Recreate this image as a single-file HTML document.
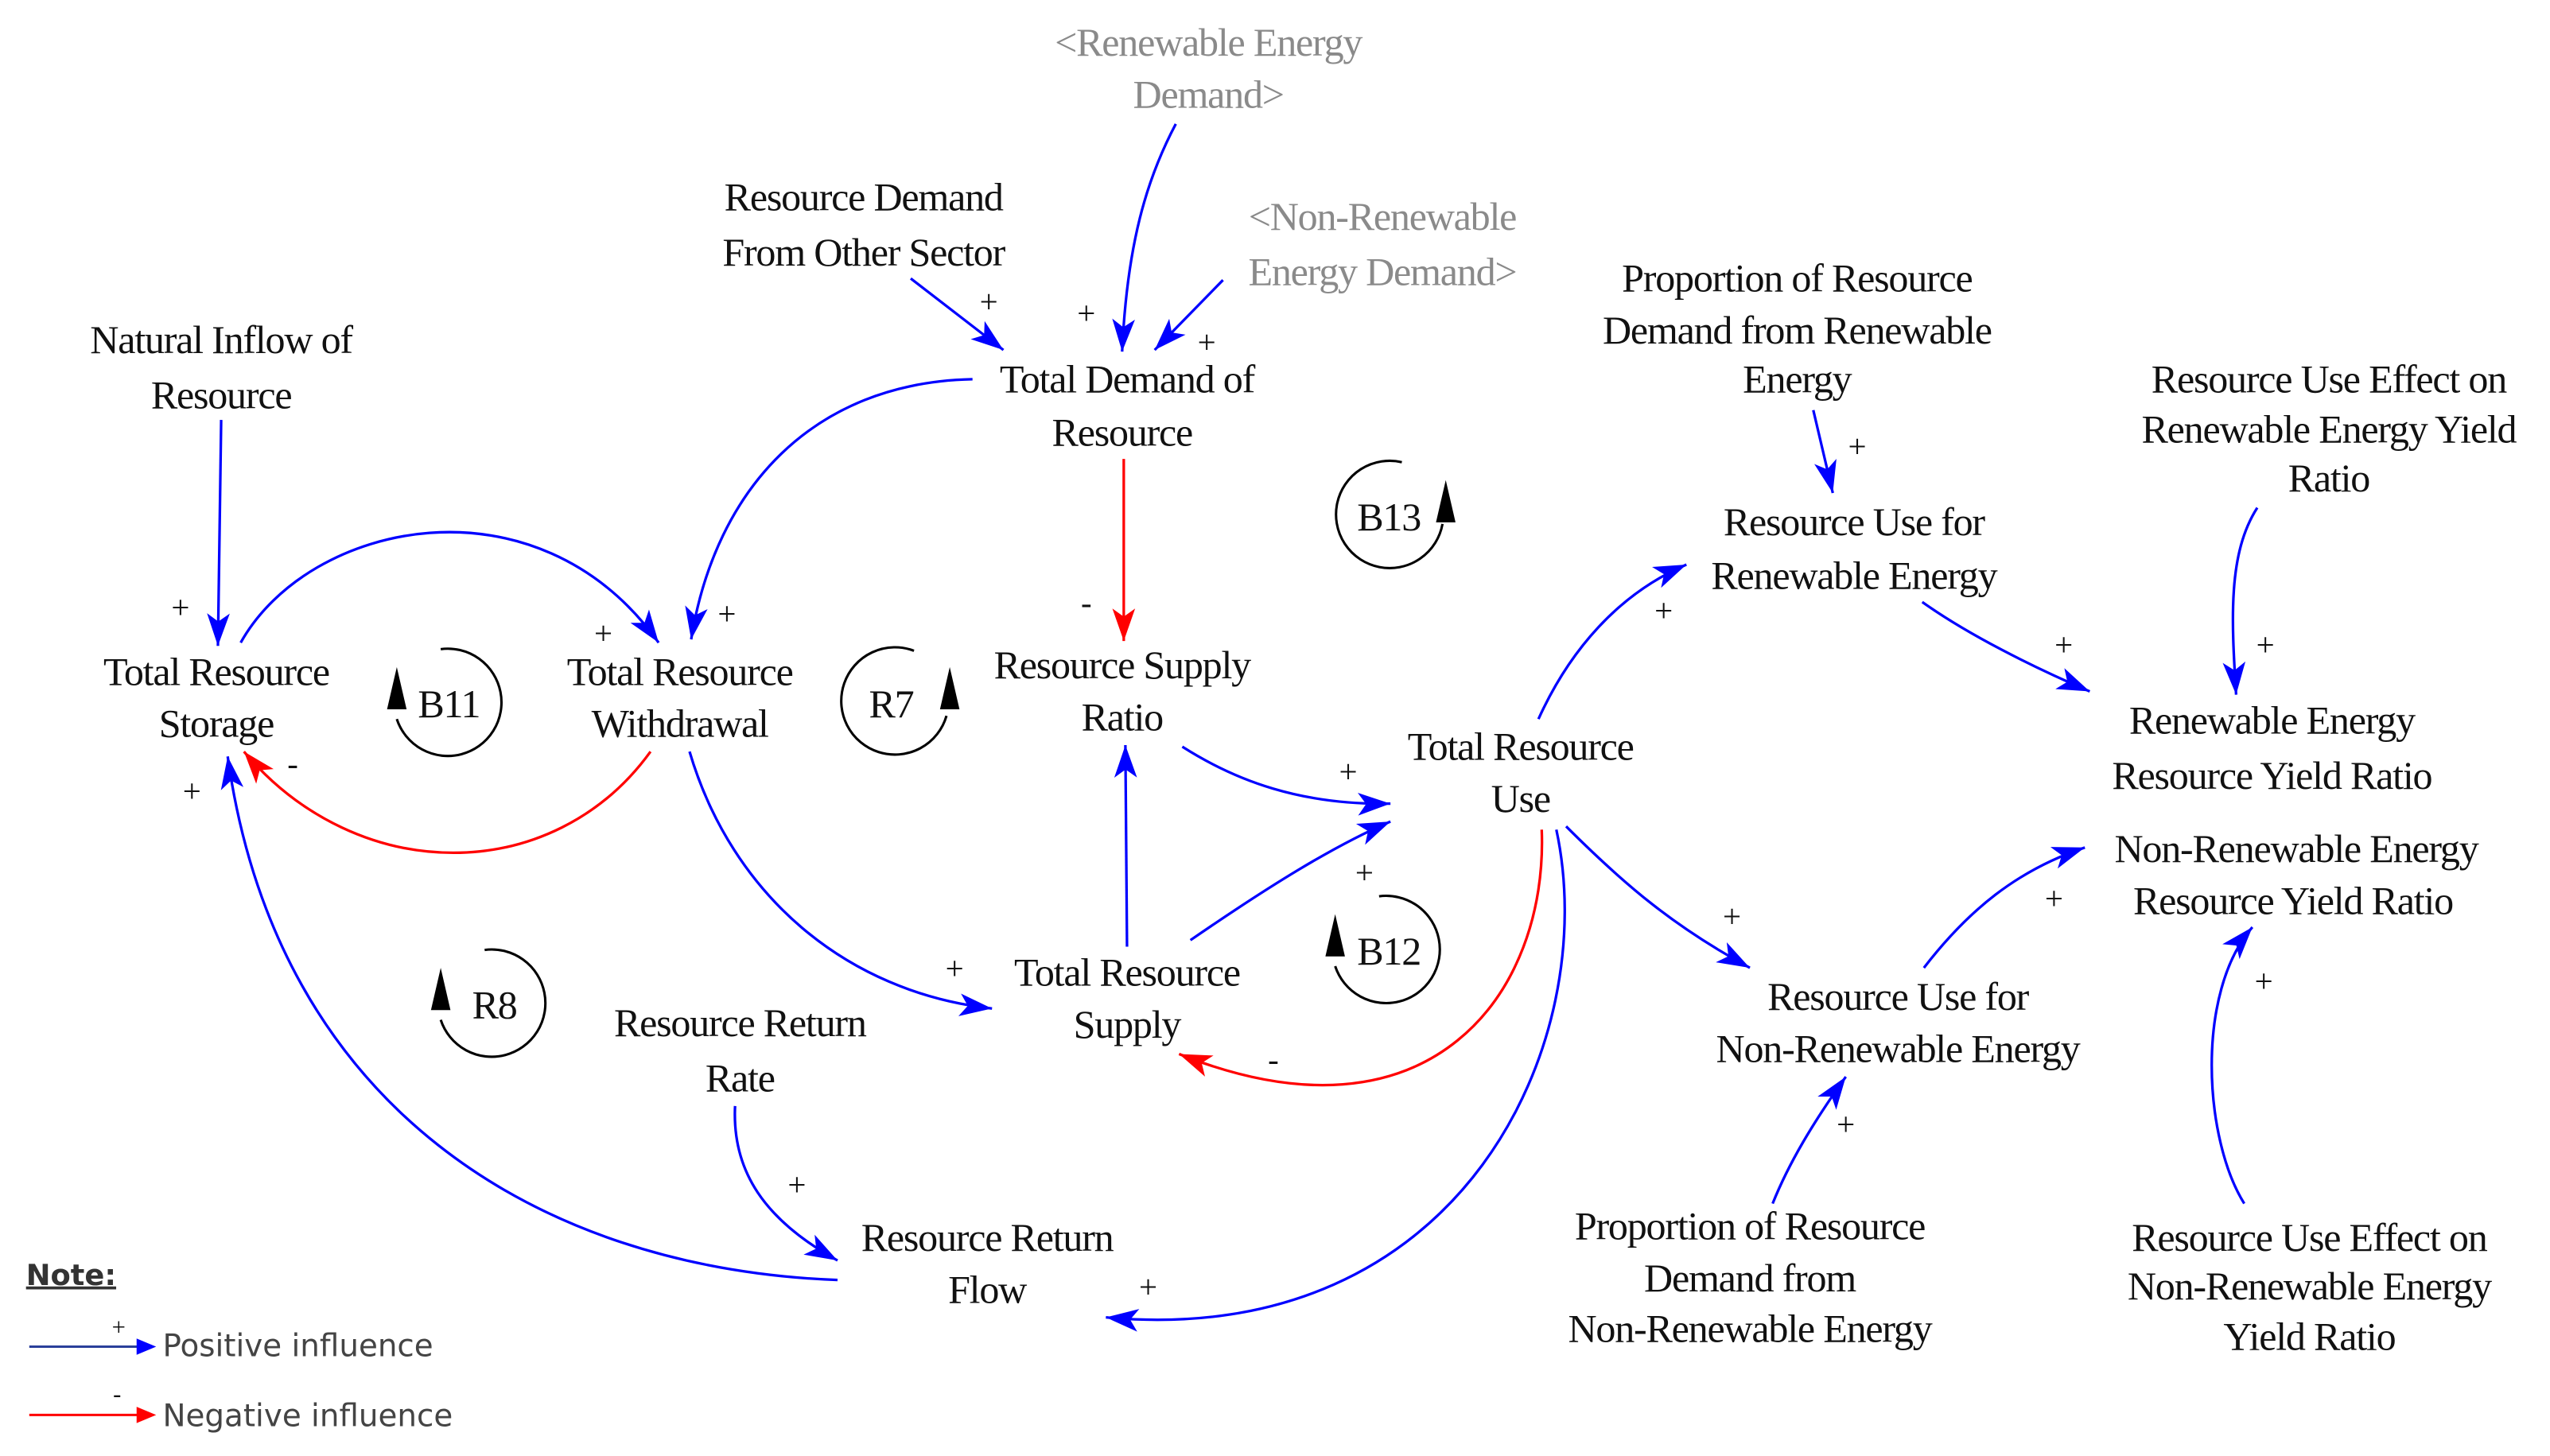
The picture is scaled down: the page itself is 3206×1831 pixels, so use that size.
<!DOCTYPE html>
<html><head><meta charset="utf-8"><style>
html,body{margin:0;padding:0;background:#fff;}
svg{display:block;}
text{font-family:"Liberation Serif",serif;font-size:24.5px;letter-spacing:-0.6px;fill:#111;text-anchor:middle;}
.g{fill:#8a8a8a;}
.p{font-size:20px;letter-spacing:0;}
.s{font-family:"DejaVu Sans","Liberation Sans",sans-serif;font-size:19px;letter-spacing:0;text-anchor:start;fill:#444;}
</style></head><body>
<svg width="3206" height="1831" viewBox="0 0 1568 895" xmlns="http://www.w3.org/2000/svg">
<defs>
<marker id="ab" markerUnits="userSpaceOnUse" markerWidth="22" markerHeight="16" refX="20" refY="8" orient="auto"><path d="M0,1 L20,8 L0,15 L5,8 Z" fill="#0000ff"/></marker>
<marker id="ar" markerUnits="userSpaceOnUse" markerWidth="22" markerHeight="16" refX="20" refY="8" orient="auto"><path d="M0,1 L20,8 L0,15 L5,8 Z" fill="#ff0000"/></marker>
</defs>
<g fill="none" stroke="#0000ff" stroke-width="1.6" marker-end="url(#ab)">
<path d="M136,258 L134,397"/>
<path d="M148,395 C190,320 330,290 405,395"/>
<path d="M598,233 C500,235 440,300 425,393"/>
<path d="M424,462 C450,550 520,610 610,620"/>
<path d="M515,787 C330,780 170,680 140,465"/>
<path d="M452,680 C450,720 470,750 515,775"/>
<path d="M957,510 C985,640 900,830 680,810"/>
<path d="M693,582 L692,458"/>
<path d="M732,578 C780,545 820,520 855,505"/>
<path d="M727,459 C760,480 800,495 855,494"/>
<path d="M560,171 L617,215"/>
<path d="M723,76 C705,110 693,150 690,216"/>
<path d="M752,172 L710,215"/>
<path d="M946,442 C965,400 995,365 1037,347"/>
<path d="M1115,252 L1127,303"/>
<path d="M1182,370 C1210,390 1250,410 1285,425"/>
<path d="M1388,312 C1370,340 1372,380 1375,427"/>
<path d="M963,508 C1000,545 1030,570 1076,595"/>
<path d="M1183,595 C1210,560 1240,535 1282,521"/>
<path d="M1090,740 C1100,715 1115,690 1135,662"/>
<path d="M1380,740 C1355,700 1350,610 1385,570"/>
</g>
<g fill="none" stroke="#ff0000" stroke-width="1.6" marker-end="url(#ar)">
<path d="M400,462 C340,545 220,545 150,462"/>
<path d="M691,282 L691,394"/>
<path d="M948,510 C952,610 880,710 725,648"/>
</g>
<g fill="none" stroke="#000" stroke-width="1.5">
<path d="M271,399 A33,33 0 1,1 244,442"/>
<path d="M562,400 A33,33 0 1,0 582,440"/>
<path d="M862,284 A33,33 0 1,0 887,322"/>
<path d="M848,551 A33,33 0 1,1 821,594"/>
<path d="M298,584 A33,33 0 1,1 271,627"/>
</g>
<g fill="#000">
<path d="M244,410 L238,436 L250,436 Z"/>
<path d="M584,410 L578,436 L590,436 Z"/>
<path d="M889,295 L883,321 L895,321 Z"/>
<path d="M821,562 L815,588 L827,588 Z"/>
<path d="M271,595 L265,621 L277,621 Z"/>
</g>
<g>
<text class="g" x="743" y="34">&lt;Renewable Energy</text><text class="g" x="743" y="66">Demand&gt;</text>
<text class="g" x="850" y="141">&lt;Non-Renewable</text><text class="g" x="850" y="175">Energy Demand&gt;</text>
<text x="531" y="129">Resource Demand</text><text x="531" y="163">From Other Sector</text>
<text x="136" y="217">Natural Inflow of</text><text x="136" y="251">Resource</text>
<text x="693" y="241">Total Demand of</text><text x="690" y="274">Resource</text>
<text x="1105" y="179">Proportion of Resource</text><text x="1105" y="211">Demand from Renewable</text><text x="1105" y="241">Energy</text>
<text x="1432" y="241">Resource Use Effect on</text><text x="1432" y="272">Renewable Energy Yield</text><text x="1432" y="302">Ratio</text>
<text x="1140" y="329">Resource Use for</text><text x="1140" y="362">Renewable Energy</text>
<text x="133" y="421">Total Resource</text><text x="133" y="453">Storage</text>
<text x="418" y="421">Total Resource</text><text x="418" y="453">Withdrawal</text>
<text x="690" y="417">Resource Supply</text><text x="690" y="449">Ratio</text>
<text x="935" y="467">Total Resource</text><text x="935" y="499">Use</text>
<text x="1397" y="451">Renewable Energy</text><text x="1397" y="485">Resource Yield Ratio</text>
<text x="1412" y="530">Non-Renewable Energy</text><text x="1410" y="562">Resource Yield Ratio</text>
<text x="693" y="606">Total Resource</text><text x="693" y="638">Supply</text>
<text x="1167" y="621">Resource Use for</text><text x="1167" y="653">Non-Renewable Energy</text>
<text x="455" y="637">Resource Return</text><text x="455" y="671">Rate</text>
<text x="607" y="769">Resource Return</text><text x="607" y="801">Flow</text>
<text x="1076" y="762">Proportion of Resource</text><text x="1076" y="794">Demand from</text><text x="1076" y="825">Non-Renewable Energy</text>
<text x="1420" y="769">Resource Use Effect on</text><text x="1420" y="799">Non-Renewable Energy</text><text x="1420" y="830">Yield Ratio</text>
<text x="276" y="441">B11</text><text x="548" y="441">R7</text><text x="854" y="326">B13</text><text x="854" y="593">B12</text><text x="304" y="626">R8</text>
</g>
<g class="p">
<text class="p" x="608" y="192">+</text><text class="p" x="668" y="199">+</text><text class="p" x="742" y="217">+</text>
<text class="p" x="111" y="380">+</text><text class="p" x="371" y="396">+</text><text class="p" x="447" y="384">+</text>
<text class="p" x="668" y="377">-</text><text class="p" x="118" y="493">+</text><text class="p" x="180" y="476">-</text>
<text class="p" x="829" y="481">+</text><text class="p" x="839" y="543">+</text><text class="p" x="587" y="602">+</text>
<text class="p" x="783" y="658">-</text><text class="p" x="490" y="735">+</text><text class="p" x="706" y="798">+</text>
<text class="p" x="1142" y="281">+</text><text class="p" x="1023" y="382">+</text><text class="p" x="1269" y="403">+</text>
<text class="p" x="1393" y="403">+</text><text class="p" x="1065" y="570">+</text><text class="p" x="1263" y="559">+</text>
<text class="p" x="1392" y="610">+</text><text class="p" x="1135" y="698">+</text>
</g>
<text x="16" y="790" style="font-family:'DejaVu Sans',sans-serif;font-size:18px;font-weight:bold;text-anchor:start;letter-spacing:0;fill:#333;text-decoration:underline;">Note:</text>
<line x1="18" y1="828" x2="86" y2="828" stroke="#2a3f9a" stroke-width="1.5"/><path d="M84,823 L96,828 L84,833 Z" fill="#0000ff"/>
<text class="p" x="73" y="821" style="font-size:15px">+</text>
<text class="s" x="100" y="834">Positive influence</text>
<line x1="18" y1="870" x2="86" y2="870" stroke="#ff0000" stroke-width="1.5"/><path d="M84,865 L96,870 L84,875 Z" fill="#ff0000"/>
<text class="p" x="72" y="862" style="font-size:15px">-</text>
<text class="s" x="100" y="877">Negative influence</text>
</svg>
</body></html>
